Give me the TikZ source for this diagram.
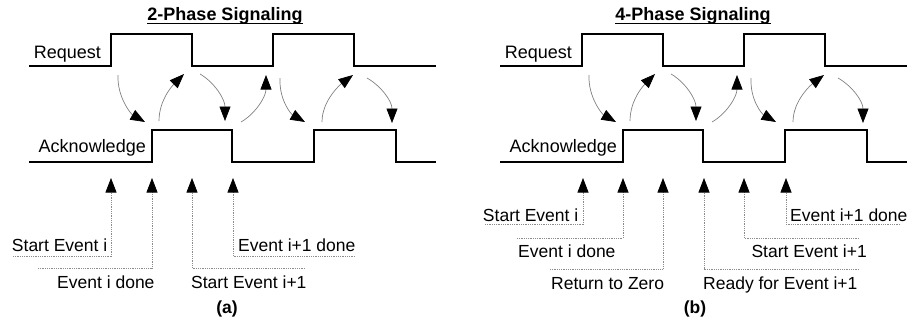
\documentclass[tikz,border=0pt]{standalone}
\usepackage{fontspec}
\setmainfont{Liberation Sans}
\usetikzlibrary{arrows.meta}
\begin{document}
\begin{tikzpicture}[x=1pt,y=-1pt,
  wavestyle/.style={line width=2pt, line join=miter},
  tiphead/.style={-{Triangle[length=14.5pt,width=11pt,color=black]}},
  flowarrow/.style={tiphead, draw=black!50, line width=0.7pt},
  eventarrow/.style={tiphead, draw=black!45, line width=0.7pt, dash pattern=on 0.9pt off 0.9pt},
  siglabel/.style={inner sep=0pt, font=\fontsize{18}{20}\selectfont, anchor=base east},
  eventlabel/.style={inner sep=0pt, font=\fontsize{17.5}{20}\selectfont},
  titlelabel/.style={inner sep=0pt, font=\bfseries\fontsize{18}{20}\selectfont, anchor=base},
  panellabel/.style={inner sep=0pt, font=\bfseries\fontsize{17.5}{20}\selectfont, anchor=base}]
\useasboundingbox (0,0) rectangle (909,322);

% titles
\node[titlelabel] (ttla) at (225,20.7) {2-Phase Signaling};
\node[titlelabel] (ttlb) at (693,20.7) {4-Phase Signaling};
\draw[line width=1.4pt] ([yshift=-2.6pt]ttla.base west) -- ([yshift=-2.6pt]ttla.base east);
\draw[line width=1.4pt] ([yshift=-2.6pt]ttlb.base west) -- ([yshift=-2.6pt]ttlb.base east);

% waveforms and handshake arrows (same for both panels)
\foreach \p/\dx in {a/0, b/471} {
\begin{scope}[xshift=\dx pt]
  \draw[wavestyle] (29,65.7) -- (111,65.7) -- (111,34.3) -- (192,34.3) -- (192,65.7)
        -- (273,65.7) -- (273,34.3) -- (354,34.3) -- (354,65.7) -- (436,65.7);
  \draw[wavestyle] (29,161.7) -- (152,161.7) -- (152,130) -- (232,130) -- (232,161.7)
        -- (314,161.7) -- (314,130) -- (396,130) -- (396,161.7) -- (436,161.7);
  \node[siglabel] (req\p) at (101,58.5) {Request};
  \node[siglabel] (ack\p) at (146,152) {Acknowledge};

  \coordinate (f1s\p) at (118,75);  \coordinate (f1e\p) at (145,122);
  \coordinate (f2s\p) at (159,121); \coordinate (f2e\p) at (184,74);
  \coordinate (f3s\p) at (200,74);  \coordinate (f3e\p) at (225,121);
  \coordinate (f4s\p) at (241,122); \coordinate (f4e\p) at (266,75);
  \coordinate (f5s\p) at (280,78);  \coordinate (f5e\p) at (305,122);
  \coordinate (f6s\p) at (322,122); \coordinate (f6e\p) at (353,75);
  \coordinate (f7s\p) at (367,78);  \coordinate (f7e\p) at (392,123);

  \draw[flowarrow] (f1s\p) .. controls +(-1,22) and +(-14,-8) .. (f1e\p);
  \draw[flowarrow] (f2s\p) .. controls +(0,-22) and +(-10,10) .. (f2e\p);
  \draw[flowarrow] (f3s\p) .. controls +(14,8) and +(0,-22) .. (f3e\p);
  \draw[flowarrow] (f4s\p) .. controls +(14,-8) and +(0,22) .. (f4e\p);
  \draw[flowarrow] (f5s\p) .. controls +(-1,22) and +(-14,-8) .. (f5e\p);
  \draw[flowarrow] (f6s\p) .. controls +(0,-22) and +(-12,9) .. (f6e\p);
  \draw[flowarrow] (f7s\p) .. controls +(14,8) and +(0,-22) .. (f7e\p);
\end{scope}
}

% event markers, panel (a)
\coordinate (ta1) at (111,178); \coordinate (ka1) at (111,256); \coordinate (ea1) at (13,256);
\coordinate (ta2) at (152,178); \coordinate (ka2) at (152,268); \coordinate (ea2) at (38,268);
\coordinate (ta3) at (192,178); \coordinate (ka3) at (192,268); \coordinate (ea3) at (305,268);
\coordinate (ta4) at (233,178); \coordinate (ka4) at (233,256); \coordinate (ea4) at (355,256);
\draw[eventarrow] (ea1) -- (ka1) -- (ta1);
\draw[eventarrow] (ea2) -- (ka2) -- (ta2);
\draw[eventarrow] (ea3) -- (ka3) -- (ta3);
\draw[eventarrow] (ea4) -- (ka4) -- (ta4);
\node[eventlabel, anchor=base east] (la1) at (107.5,251.5) {Start Event i};
\node[eventlabel, anchor=base west] (la2) at (57,288.5) {Event i done};
\node[eventlabel, anchor=base west] (la3) at (191,288.5) {Start Event i+1};
\node[eventlabel, anchor=base west] (la4) at (238,251.5) {Event i+1 done};
\node[panellabel] (suba) at (227,313.5) {(a)};

% event markers, panel (b)
\coordinate (tb1) at (583,178); \coordinate (kb1) at (583,224); \coordinate (eb1) at (485,224);
\coordinate (tb2) at (623,178); \coordinate (kb2) at (623,238); \coordinate (eb2) at (517,238);
\coordinate (tb3) at (663,178); \coordinate (kb3) at (663,269); \coordinate (eb3) at (550,269);
\coordinate (tb4) at (704,178); \coordinate (kb4) at (704,269); \coordinate (eb4) at (859,269);
\coordinate (tb5) at (744,178); \coordinate (kb5) at (744,238); \coordinate (eb5) at (859,238);
\coordinate (tb6) at (786,178); \coordinate (kb6) at (786,224); \coordinate (eb6) at (900,224);
\draw[eventarrow] (eb1) -- (kb1) -- (tb1);
\draw[eventarrow] (eb2) -- (kb2) -- (tb2);
\draw[eventarrow] (eb3) -- (kb3) -- (tb3);
\draw[eventarrow] (eb4) -- (kb4) -- (tb4);
\draw[eventarrow] (eb5) -- (kb5) -- (tb5);
\draw[eventarrow] (eb6) -- (kb6) -- (tb6);
\node[eventlabel, anchor=base east] (lb1) at (578.5,221) {Start Event i};
\node[eventlabel, anchor=base west] (lb2) at (518,257.5) {Event i done};
\node[eventlabel, anchor=base west] (lb3) at (551,289) {Return to Zero};
\node[eventlabel, anchor=base west] (lb4) at (703,289) {Ready for Event i+1};
\node[eventlabel, anchor=base east] (lb5) at (867,257.5) {Start Event i+1};
\node[eventlabel, anchor=base west] (lb6) at (790,221) {Event i+1 done};
\node[panellabel] (subb) at (695,313.5) {(b)};
\end{tikzpicture}
\end{document}
